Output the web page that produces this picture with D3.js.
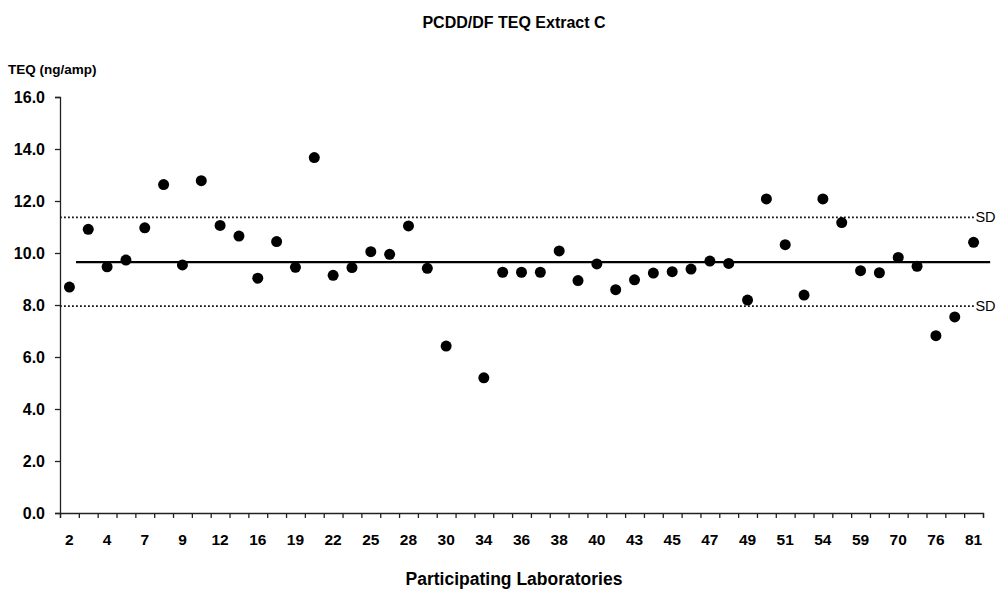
<!DOCTYPE html>
<html>
<head>
<meta charset="utf-8">
<script src="https://cdn.jsdelivr.net/npm/d3@7"></script>
<style>
    body { margin: 0; background: #fff; }
    svg { font-family: Arial, "Liberation Sans", Helvetica, sans-serif; }
</style>
</head>
<body>
<div id="chart"></div>
<script>
    // Lab labels that are printed under the axis (every other lab)
    var labTicks = ["2", "4", "7", "9", "12", "16", "19", "22", "25", "28", "30", "34", "36",
        "38", "40", "43", "45", "47", "49", "51", "54", "59", "70", "76", "81"];

    // TEQ result per participating lab, in axis order (null = no result shown)
    var teq = [8.69, 10.91, 9.47, 9.73, 10.97, 12.63, 9.54, 12.78, 11.06, 10.65,
        9.03, 10.44, 9.45, 13.67, 9.14, 9.44, 10.05, 9.95, 11.04, 9.41,
        6.42, null, 5.20, 9.26, 9.26, 9.26, 10.08, 8.94, 9.58, 8.59,
        8.97, 9.23, 9.28, 9.38, 9.69, 9.60, 8.19, 12.08, 10.32, 8.38,
        12.08, 11.17, 9.32, 9.24, 9.83, 9.49, 6.82, 7.54, 10.41];

    var meanTeq = 9.65;
    var sdLines = [11.37, 7.96];
    var yTicks = [0, 2, 4, 6, 8, 10, 12, 14, 16];

    var width = 1000, height = 590;
    var nCat = teq.length;

    var svg = d3.select("#chart").append("svg")
        .attr("width", width)
        .attr("height", height);

    // x runs over category slots, points sit in the middle of a slot
    var x = d3.scaleLinear().domain([0, nCat]).range([60, 983]);
    var y = d3.scaleLinear().domain([0, 16]).range([513, 97]);

    // title
    svg.append("text")
        .attr("x", 514).attr("y", 28)
        .attr("text-anchor", "middle")
        .style("font-size", "16px").style("font-weight", "bold")
        .text("PCDD/DF TEQ Extract C");

    svg.append("text")
        .attr("x", 8).attr("y", 74)
        .style("font-size", "13.5px").style("font-weight", "bold")
        .text("TEQ (ng/amp)");

    // y axis
    var yAxis = svg.append("g")
        .attr("transform", "translate(" + x(0) + ",0)")
        .call(d3.axisLeft(y).tickValues(yTicks).tickFormat(d3.format(".1f")).tickSize(5).tickPadding(10));
    yAxis.select(".domain").attr("stroke", "#222").attr("stroke-width", 1.3);
    yAxis.selectAll(".tick line").attr("stroke", "#222").attr("stroke-width", 1.3);
    yAxis.selectAll("text")
        .attr("fill", "#000")
        .style("font-size", "16px").style("font-weight", "bold")
        .style("font-family", "Arial, 'Liberation Sans', sans-serif");

    // x axis: tick marks on slot boundaries, no text
    var xAxis = svg.append("g")
        .attr("transform", "translate(0," + y(0) + ")")
        .call(d3.axisBottom(x).tickValues(d3.range(0, nCat + 1)).tickFormat("").tickSizeOuter(0).tickSize(5));
    xAxis.select(".domain").attr("stroke", "#222").attr("stroke-width", 1.3);
    xAxis.selectAll(".tick line").attr("stroke", "#222").attr("stroke-width", 1.3);

    // lab labels under every other slot
    svg.append("g").selectAll("text")
        .data(labTicks)
        .enter().append("text")
        .attr("x", function (d, i) { return x(i * 2 + 0.5); })
        .attr("y", 545)
        .attr("text-anchor", "middle")
        .style("font-size", "15.5px").style("font-weight", "bold")
        .text(function (d) { return d; });

    svg.append("text")
        .attr("x", 514).attr("y", 585)
        .attr("text-anchor", "middle")
        .style("font-size", "17.5px").style("font-weight", "bold")
        .text("Participating Laboratories");

    // SD band lines (dotted)
    svg.append("g").selectAll("line")
        .data(sdLines)
        .enter().append("line")
        .attr("x1", x(0)).attr("x2", x(nCat - 0.45))
        .attr("y1", function (d) { return y(d); })
        .attr("y2", function (d) { return y(d); })
        .attr("stroke", "#111")
        .attr("stroke-width", 1.8)
        .attr("stroke-dasharray", "1.8,2.2");

    svg.append("g").selectAll("text")
        .data(sdLines)
        .enter().append("text")
        .attr("x", x(nCat - 0.4))
        .attr("y", function (d) { return y(d) + 5; })
        .style("font-size", "14.5px")
        .text("SD");

    // mean line
    svg.append("line")
        .attr("x1", x(0.85)).attr("x2", x(nCat + 0.38))
        .attr("y1", y(meanTeq)).attr("y2", y(meanTeq))
        .attr("stroke", "#000")
        .attr("stroke-width", 2.2);

    // lab results
    svg.append("g").selectAll("circle")
        .data(teq.map(function (v, i) { return { i: i, v: v }; }).filter(function (d) { return d.v !== null; }))
        .enter().append("circle")
        .attr("cx", function (d) { return x(d.i + 0.5); })
        .attr("cy", function (d) { return y(d.v); })
        .attr("r", 5.5)
        .attr("fill", "#000");
</script>
</body>
</html>
